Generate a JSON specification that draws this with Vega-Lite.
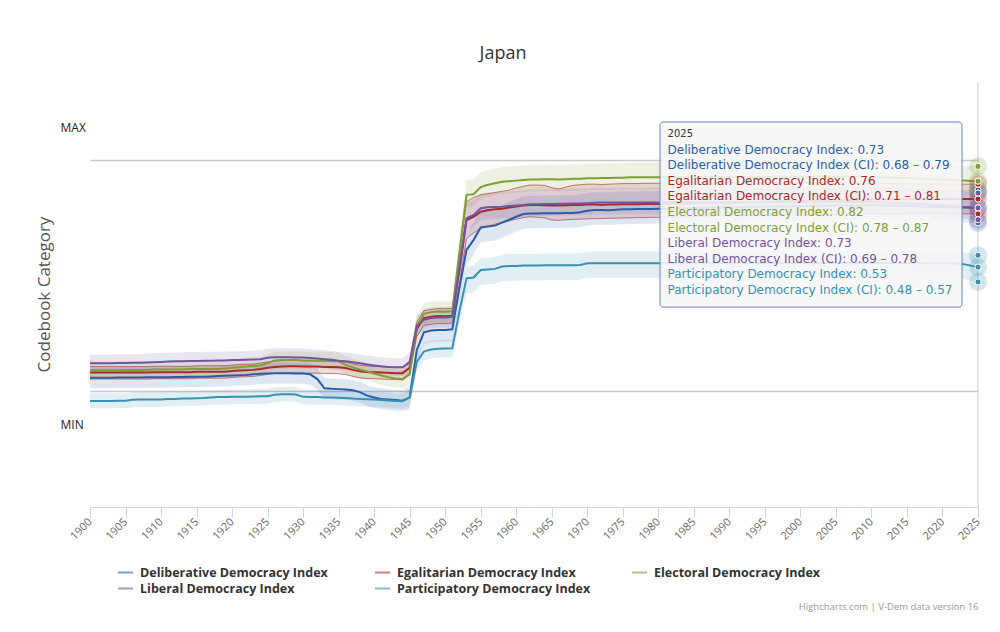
{
  "$schema": "https://vega.github.io/schema/vega-lite/v6.json",
  "width": 888,
  "height": 425,
  "autosize": {"type": "none"},
  "padding": {"left": 90, "top": 82, "right": 22, "bottom": 125},
  "background": "white",
  "config": {"font": "Open Sans", "view": {"stroke": null}, "axis": {"labelOverlap": false, "labelSeparation": 0}},
  "title": {"text": "Japan", "fontSize": 18, "fontWeight": "normal", "color": "#333333", "anchor": "middle", "dx": -31, "offset": 5, "baseline": "alphabetic"},
  "datasets": {
    "tip": [
      {"k": 0, "s": "H", "t": "2025"},
      {"k": 1, "s": "D", "t": "Deliberative Democracy Index: 0.73"},
      {"k": 2, "s": "D", "t": "Deliberative Democracy Index (CI): 0.68 – 0.79"},
      {"k": 3, "s": "G", "t": "Egalitarian Democracy Index: 0.76"},
      {"k": 4, "s": "G", "t": "Egalitarian Democracy Index (CI): 0.71 – 0.81"},
      {"k": 5, "s": "E", "t": "Electoral Democracy Index: 0.82"},
      {"k": 6, "s": "E", "t": "Electoral Democracy Index (CI): 0.78 – 0.87"},
      {"k": 7, "s": "L", "t": "Liberal Democracy Index: 0.73"},
      {"k": 8, "s": "L", "t": "Liberal Democracy Index (CI): 0.69 – 0.78"},
      {"k": 9, "s": "P", "t": "Participatory Democracy Index: 0.53"},
      {"k": 10, "s": "P", "t": "Participatory Democracy Index (CI): 0.48 – 0.57"}
    ],
    "dem": [
      {"s":"D","y":1900,"v":0.156,"l":0.121,"h":0.191},{"s":"D","y":1901,"v":0.156,"l":0.121,"h":0.191},{"s":"D","y":1902,"v":0.156,"l":0.121,"h":0.191},{"s":"D","y":1903,"v":0.156,"l":0.121,"h":0.191},{"s":"D","y":1904,"v":0.157,"l":0.122,"h":0.192},
      {"s":"D","y":1905,"v":0.157,"l":0.122,"h":0.192},{"s":"D","y":1906,"v":0.157,"l":0.122,"h":0.192},{"s":"D","y":1907,"v":0.157,"l":0.122,"h":0.192},{"s":"D","y":1908,"v":0.158,"l":0.123,"h":0.193},{"s":"D","y":1909,"v":0.158,"l":0.123,"h":0.193},
      {"s":"D","y":1910,"v":0.158,"l":0.123,"h":0.193},{"s":"D","y":1911,"v":0.158,"l":0.123,"h":0.193},{"s":"D","y":1912,"v":0.159,"l":0.124,"h":0.194},{"s":"D","y":1913,"v":0.159,"l":0.124,"h":0.194},{"s":"D","y":1914,"v":0.160,"l":0.125,"h":0.195},
      {"s":"D","y":1915,"v":0.160,"l":0.125,"h":0.195},{"s":"D","y":1916,"v":0.160,"l":0.125,"h":0.195},{"s":"D","y":1917,"v":0.161,"l":0.126,"h":0.196},{"s":"D","y":1918,"v":0.162,"l":0.127,"h":0.197},{"s":"D","y":1919,"v":0.163,"l":0.128,"h":0.198},
      {"s":"D","y":1920,"v":0.164,"l":0.129,"h":0.199},{"s":"D","y":1921,"v":0.165,"l":0.130,"h":0.200},{"s":"D","y":1922,"v":0.166,"l":0.131,"h":0.201},{"s":"D","y":1923,"v":0.168,"l":0.133,"h":0.203},{"s":"D","y":1924,"v":0.170,"l":0.135,"h":0.205},
      {"s":"D","y":1925,"v":0.171,"l":0.136,"h":0.206},{"s":"D","y":1926,"v":0.172,"l":0.137,"h":0.207},{"s":"D","y":1927,"v":0.172,"l":0.137,"h":0.207},{"s":"D","y":1928,"v":0.172,"l":0.137,"h":0.207},{"s":"D","y":1929,"v":0.171,"l":0.136,"h":0.206},
      {"s":"D","y":1930,"v":0.171,"l":0.136,"h":0.206},{"s":"D","y":1931,"v":0.168,"l":0.133,"h":0.203},{"s":"D","y":1932,"v":0.152,"l":0.117,"h":0.187},{"s":"D","y":1933,"v":0.121,"l":0.086,"h":0.156},{"s":"D","y":1934,"v":0.119,"l":0.084,"h":0.154},
      {"s":"D","y":1935,"v":0.118,"l":0.083,"h":0.153},{"s":"D","y":1936,"v":0.117,"l":0.082,"h":0.152},{"s":"D","y":1937,"v":0.114,"l":0.079,"h":0.149},{"s":"D","y":1938,"v":0.108,"l":0.073,"h":0.143},{"s":"D","y":1939,"v":0.096,"l":0.061,"h":0.131},
      {"s":"D","y":1940,"v":0.090,"l":0.055,"h":0.125},{"s":"D","y":1941,"v":0.085,"l":0.050,"h":0.120},{"s":"D","y":1942,"v":0.083,"l":0.048,"h":0.118},{"s":"D","y":1943,"v":0.081,"l":0.046,"h":0.116},{"s":"D","y":1944,"v":0.079,"l":0.044,"h":0.114},
      {"s":"D","y":1945,"v":0.090,"l":0.050,"h":0.130},{"s":"D","y":1946,"v":0.250,"l":0.210,"h":0.290},{"s":"D","y":1947,"v":0.310,"l":0.270,"h":0.350},{"s":"D","y":1948,"v":0.316,"l":0.276,"h":0.356},{"s":"D","y":1949,"v":0.318,"l":0.278,"h":0.358},
      {"s":"D","y":1950,"v":0.318,"l":0.278,"h":0.358},{"s":"D","y":1951,"v":0.320,"l":0.280,"h":0.360},{"s":"D","y":1952,"v":0.460,"l":0.410,"h":0.520},{"s":"D","y":1953,"v":0.588,"l":0.538,"h":0.648},{"s":"D","y":1954,"v":0.622,"l":0.572,"h":0.682},
      {"s":"D","y":1955,"v":0.664,"l":0.614,"h":0.724},{"s":"D","y":1956,"v":0.667,"l":0.617,"h":0.727},{"s":"D","y":1957,"v":0.670,"l":0.620,"h":0.730},{"s":"D","y":1958,"v":0.680,"l":0.630,"h":0.740},{"s":"D","y":1959,"v":0.690,"l":0.640,"h":0.750},
      {"s":"D","y":1960,"v":0.700,"l":0.650,"h":0.760},{"s":"D","y":1961,"v":0.709,"l":0.659,"h":0.769},{"s":"D","y":1962,"v":0.711,"l":0.661,"h":0.771},{"s":"D","y":1963,"v":0.711,"l":0.661,"h":0.771},{"s":"D","y":1964,"v":0.712,"l":0.662,"h":0.772},
      {"s":"D","y":1965,"v":0.712,"l":0.662,"h":0.772},{"s":"D","y":1966,"v":0.712,"l":0.662,"h":0.772},{"s":"D","y":1967,"v":0.713,"l":0.663,"h":0.773},{"s":"D","y":1968,"v":0.713,"l":0.663,"h":0.773},{"s":"D","y":1969,"v":0.715,"l":0.665,"h":0.775},
      {"s":"D","y":1970,"v":0.720,"l":0.670,"h":0.780},{"s":"D","y":1971,"v":0.723,"l":0.673,"h":0.783},{"s":"D","y":1972,"v":0.723,"l":0.673,"h":0.783},{"s":"D","y":1973,"v":0.722,"l":0.672,"h":0.782},{"s":"D","y":1974,"v":0.724,"l":0.674,"h":0.784},
      {"s":"D","y":1975,"v":0.725,"l":0.675,"h":0.785},{"s":"D","y":1976,"v":0.725,"l":0.675,"h":0.785},{"s":"D","y":1977,"v":0.726,"l":0.676,"h":0.786},{"s":"D","y":1978,"v":0.726,"l":0.676,"h":0.786},{"s":"D","y":1979,"v":0.726,"l":0.676,"h":0.786},
      {"s":"D","y":1980,"v":0.727,"l":0.677,"h":0.787},{"s":"D","y":1981,"v":0.727,"l":0.677,"h":0.787},{"s":"D","y":1982,"v":0.728,"l":0.678,"h":0.788},{"s":"D","y":1983,"v":0.728,"l":0.678,"h":0.788},{"s":"D","y":1984,"v":0.729,"l":0.679,"h":0.789},
      {"s":"D","y":1985,"v":0.729,"l":0.679,"h":0.789},{"s":"D","y":1986,"v":0.730,"l":0.680,"h":0.790},{"s":"D","y":1987,"v":0.730,"l":0.680,"h":0.790},{"s":"D","y":1988,"v":0.731,"l":0.681,"h":0.791},{"s":"D","y":1989,"v":0.731,"l":0.681,"h":0.791},
      {"s":"D","y":1990,"v":0.732,"l":0.682,"h":0.792},{"s":"D","y":1991,"v":0.732,"l":0.682,"h":0.792},{"s":"D","y":1992,"v":0.732,"l":0.682,"h":0.792},{"s":"D","y":1993,"v":0.733,"l":0.683,"h":0.793},{"s":"D","y":1994,"v":0.734,"l":0.684,"h":0.794},
      {"s":"D","y":1995,"v":0.734,"l":0.684,"h":0.794},{"s":"D","y":1996,"v":0.735,"l":0.685,"h":0.795},{"s":"D","y":1997,"v":0.735,"l":0.685,"h":0.795},{"s":"D","y":1998,"v":0.735,"l":0.685,"h":0.795},{"s":"D","y":1999,"v":0.736,"l":0.686,"h":0.796},
      {"s":"D","y":2000,"v":0.736,"l":0.686,"h":0.796},{"s":"D","y":2001,"v":0.736,"l":0.686,"h":0.796},{"s":"D","y":2002,"v":0.737,"l":0.687,"h":0.797},{"s":"D","y":2003,"v":0.737,"l":0.687,"h":0.797},{"s":"D","y":2004,"v":0.737,"l":0.687,"h":0.797},
      {"s":"D","y":2005,"v":0.738,"l":0.688,"h":0.798},{"s":"D","y":2006,"v":0.738,"l":0.688,"h":0.798},{"s":"D","y":2007,"v":0.738,"l":0.688,"h":0.798},{"s":"D","y":2008,"v":0.738,"l":0.688,"h":0.798},{"s":"D","y":2009,"v":0.739,"l":0.689,"h":0.799},
      {"s":"D","y":2010,"v":0.739,"l":0.689,"h":0.799},{"s":"D","y":2011,"v":0.739,"l":0.689,"h":0.799},{"s":"D","y":2012,"v":0.738,"l":0.688,"h":0.798},{"s":"D","y":2013,"v":0.738,"l":0.688,"h":0.798},{"s":"D","y":2014,"v":0.737,"l":0.687,"h":0.797},
      {"s":"D","y":2015,"v":0.736,"l":0.686,"h":0.796},{"s":"D","y":2016,"v":0.736,"l":0.686,"h":0.796},{"s":"D","y":2017,"v":0.735,"l":0.685,"h":0.795},{"s":"D","y":2018,"v":0.734,"l":0.684,"h":0.794},{"s":"D","y":2019,"v":0.733,"l":0.683,"h":0.793},
      {"s":"D","y":2020,"v":0.733,"l":0.683,"h":0.793},{"s":"D","y":2021,"v":0.732,"l":0.682,"h":0.792},{"s":"D","y":2022,"v":0.731,"l":0.681,"h":0.791},{"s":"D","y":2023,"v":0.731,"l":0.681,"h":0.791},{"s":"D","y":2024,"v":0.730,"l":0.680,"h":0.790},
      {"s":"D","y":2025,"v":0.730,"l":0.680,"h":0.790},

      {"s":"G","y":1900,"v":0.174,"l":0.152,"h":0.194},{"s":"G","y":1901,"v":0.174,"l":0.152,"h":0.194},{"s":"G","y":1902,"v":0.174,"l":0.152,"h":0.194},{"s":"G","y":1903,"v":0.174,"l":0.152,"h":0.194},{"s":"G","y":1904,"v":0.174,"l":0.152,"h":0.194},
      {"s":"G","y":1905,"v":0.174,"l":0.152,"h":0.194},{"s":"G","y":1906,"v":0.174,"l":0.152,"h":0.194},{"s":"G","y":1907,"v":0.174,"l":0.152,"h":0.194},{"s":"G","y":1908,"v":0.174,"l":0.152,"h":0.194},{"s":"G","y":1909,"v":0.175,"l":0.153,"h":0.195},
      {"s":"G","y":1910,"v":0.175,"l":0.153,"h":0.195},{"s":"G","y":1911,"v":0.175,"l":0.153,"h":0.195},{"s":"G","y":1912,"v":0.175,"l":0.153,"h":0.195},{"s":"G","y":1913,"v":0.175,"l":0.153,"h":0.195},{"s":"G","y":1914,"v":0.175,"l":0.153,"h":0.195},
      {"s":"G","y":1915,"v":0.177,"l":0.155,"h":0.197},{"s":"G","y":1916,"v":0.177,"l":0.155,"h":0.197},{"s":"G","y":1917,"v":0.177,"l":0.155,"h":0.197},{"s":"G","y":1918,"v":0.177,"l":0.155,"h":0.197},{"s":"G","y":1919,"v":0.177,"l":0.155,"h":0.197},
      {"s":"G","y":1920,"v":0.179,"l":0.157,"h":0.199},{"s":"G","y":1921,"v":0.181,"l":0.159,"h":0.201},{"s":"G","y":1922,"v":0.182,"l":0.160,"h":0.202},{"s":"G","y":1923,"v":0.183,"l":0.161,"h":0.203},{"s":"G","y":1924,"v":0.186,"l":0.164,"h":0.206},
      {"s":"G","y":1925,"v":0.190,"l":0.168,"h":0.210},{"s":"G","y":1926,"v":0.193,"l":0.171,"h":0.213},{"s":"G","y":1927,"v":0.194,"l":0.172,"h":0.214},{"s":"G","y":1928,"v":0.195,"l":0.173,"h":0.215},{"s":"G","y":1929,"v":0.195,"l":0.173,"h":0.215},
      {"s":"G","y":1930,"v":0.194,"l":0.172,"h":0.214},{"s":"G","y":1931,"v":0.194,"l":0.172,"h":0.214},{"s":"G","y":1932,"v":0.194,"l":0.172,"h":0.214},{"s":"G","y":1933,"v":0.193,"l":0.171,"h":0.213},{"s":"G","y":1934,"v":0.193,"l":0.171,"h":0.213},
      {"s":"G","y":1935,"v":0.192,"l":0.170,"h":0.212},{"s":"G","y":1936,"v":0.189,"l":0.167,"h":0.209},{"s":"G","y":1937,"v":0.183,"l":0.161,"h":0.203},{"s":"G","y":1938,"v":0.178,"l":0.156,"h":0.198},{"s":"G","y":1939,"v":0.176,"l":0.154,"h":0.196},
      {"s":"G","y":1940,"v":0.175,"l":0.153,"h":0.195},{"s":"G","y":1941,"v":0.174,"l":0.152,"h":0.194},{"s":"G","y":1942,"v":0.173,"l":0.151,"h":0.193},{"s":"G","y":1943,"v":0.172,"l":0.150,"h":0.192},{"s":"G","y":1944,"v":0.172,"l":0.150,"h":0.192},
      {"s":"G","y":1945,"v":0.190,"l":0.165,"h":0.215},{"s":"G","y":1946,"v":0.320,"l":0.295,"h":0.345},{"s":"G","y":1947,"v":0.358,"l":0.333,"h":0.383},{"s":"G","y":1948,"v":0.362,"l":0.337,"h":0.387},{"s":"G","y":1949,"v":0.365,"l":0.340,"h":0.390},
      {"s":"G","y":1950,"v":0.364,"l":0.339,"h":0.389},{"s":"G","y":1951,"v":0.366,"l":0.341,"h":0.391},{"s":"G","y":1952,"v":0.520,"l":0.470,"h":0.580},{"s":"G","y":1953,"v":0.689,"l":0.627,"h":0.751},{"s":"G","y":1954,"v":0.700,"l":0.645,"h":0.765},
      {"s":"G","y":1955,"v":0.717,"l":0.661,"h":0.774},{"s":"G","y":1956,"v":0.722,"l":0.668,"h":0.778},{"s":"G","y":1957,"v":0.725,"l":0.675,"h":0.782},{"s":"G","y":1958,"v":0.727,"l":0.680,"h":0.786},{"s":"G","y":1959,"v":0.731,"l":0.686,"h":0.790},
      {"s":"G","y":1960,"v":0.735,"l":0.692,"h":0.797},{"s":"G","y":1961,"v":0.738,"l":0.697,"h":0.803},{"s":"G","y":1962,"v":0.740,"l":0.700,"h":0.807},{"s":"G","y":1963,"v":0.740,"l":0.698,"h":0.807},{"s":"G","y":1964,"v":0.739,"l":0.696,"h":0.806},
      {"s":"G","y":1965,"v":0.738,"l":0.689,"h":0.798},{"s":"G","y":1966,"v":0.738,"l":0.688,"h":0.794},{"s":"G","y":1967,"v":0.739,"l":0.690,"h":0.800},{"s":"G","y":1968,"v":0.740,"l":0.691,"h":0.806},{"s":"G","y":1969,"v":0.740,"l":0.692,"h":0.808},
      {"s":"G","y":1970,"v":0.741,"l":0.693,"h":0.810},{"s":"G","y":1971,"v":0.741,"l":0.694,"h":0.810},{"s":"G","y":1972,"v":0.740,"l":0.694,"h":0.809},{"s":"G","y":1973,"v":0.741,"l":0.695,"h":0.810},{"s":"G","y":1974,"v":0.741,"l":0.695,"h":0.811},
      {"s":"G","y":1975,"v":0.742,"l":0.696,"h":0.812},{"s":"G","y":1976,"v":0.742,"l":0.696,"h":0.812},{"s":"G","y":1977,"v":0.742,"l":0.697,"h":0.812},{"s":"G","y":1978,"v":0.743,"l":0.697,"h":0.813},{"s":"G","y":1979,"v":0.743,"l":0.698,"h":0.813},
      {"s":"G","y":1980,"v":0.743,"l":0.698,"h":0.813},{"s":"G","y":1981,"v":0.744,"l":0.699,"h":0.813},{"s":"G","y":1982,"v":0.744,"l":0.699,"h":0.813},{"s":"G","y":1983,"v":0.745,"l":0.700,"h":0.814},{"s":"G","y":1984,"v":0.745,"l":0.700,"h":0.814},
      {"s":"G","y":1985,"v":0.746,"l":0.701,"h":0.814},{"s":"G","y":1986,"v":0.746,"l":0.701,"h":0.814},{"s":"G","y":1987,"v":0.747,"l":0.702,"h":0.814},{"s":"G","y":1988,"v":0.747,"l":0.702,"h":0.814},{"s":"G","y":1989,"v":0.748,"l":0.703,"h":0.815},
      {"s":"G","y":1990,"v":0.748,"l":0.703,"h":0.815},{"s":"G","y":1991,"v":0.749,"l":0.704,"h":0.815},{"s":"G","y":1992,"v":0.749,"l":0.704,"h":0.815},{"s":"G","y":1993,"v":0.750,"l":0.705,"h":0.815},{"s":"G","y":1994,"v":0.750,"l":0.705,"h":0.815},
      {"s":"G","y":1995,"v":0.751,"l":0.706,"h":0.815},{"s":"G","y":1996,"v":0.751,"l":0.706,"h":0.815},{"s":"G","y":1997,"v":0.752,"l":0.707,"h":0.815},{"s":"G","y":1998,"v":0.752,"l":0.707,"h":0.815},{"s":"G","y":1999,"v":0.753,"l":0.707,"h":0.815},
      {"s":"G","y":2000,"v":0.753,"l":0.708,"h":0.815},{"s":"G","y":2001,"v":0.754,"l":0.708,"h":0.815},{"s":"G","y":2002,"v":0.754,"l":0.708,"h":0.815},{"s":"G","y":2003,"v":0.755,"l":0.709,"h":0.815},{"s":"G","y":2004,"v":0.755,"l":0.709,"h":0.814},
      {"s":"G","y":2005,"v":0.756,"l":0.709,"h":0.814},{"s":"G","y":2006,"v":0.756,"l":0.709,"h":0.814},{"s":"G","y":2007,"v":0.757,"l":0.710,"h":0.814},{"s":"G","y":2008,"v":0.757,"l":0.710,"h":0.813},{"s":"G","y":2009,"v":0.757,"l":0.710,"h":0.813},
      {"s":"G","y":2010,"v":0.758,"l":0.710,"h":0.813},{"s":"G","y":2011,"v":0.758,"l":0.710,"h":0.813},{"s":"G","y":2012,"v":0.758,"l":0.710,"h":0.812},{"s":"G","y":2013,"v":0.759,"l":0.710,"h":0.812},{"s":"G","y":2014,"v":0.759,"l":0.710,"h":0.812},
      {"s":"G","y":2015,"v":0.759,"l":0.711,"h":0.812},{"s":"G","y":2016,"v":0.760,"l":0.711,"h":0.811},{"s":"G","y":2017,"v":0.760,"l":0.711,"h":0.811},{"s":"G","y":2018,"v":0.760,"l":0.711,"h":0.811},{"s":"G","y":2019,"v":0.760,"l":0.711,"h":0.811},
      {"s":"G","y":2020,"v":0.760,"l":0.711,"h":0.811},{"s":"G","y":2021,"v":0.760,"l":0.710,"h":0.810},{"s":"G","y":2022,"v":0.760,"l":0.710,"h":0.810},{"s":"G","y":2023,"v":0.760,"l":0.710,"h":0.810},{"s":"G","y":2024,"v":0.760,"l":0.710,"h":0.810},
      {"s":"G","y":2025,"v":0.760,"l":0.710,"h":0.810},

      {"s":"E","y":1900,"v":0.182,"l":0.152,"h":0.212},{"s":"E","y":1901,"v":0.182,"l":0.152,"h":0.212},{"s":"E","y":1902,"v":0.182,"l":0.152,"h":0.212},{"s":"E","y":1903,"v":0.182,"l":0.152,"h":0.212},{"s":"E","y":1904,"v":0.182,"l":0.152,"h":0.212},
      {"s":"E","y":1905,"v":0.183,"l":0.153,"h":0.213},{"s":"E","y":1906,"v":0.183,"l":0.153,"h":0.213},{"s":"E","y":1907,"v":0.183,"l":0.153,"h":0.213},{"s":"E","y":1908,"v":0.183,"l":0.153,"h":0.213},{"s":"E","y":1909,"v":0.184,"l":0.154,"h":0.214},
      {"s":"E","y":1910,"v":0.184,"l":0.154,"h":0.214},{"s":"E","y":1911,"v":0.184,"l":0.154,"h":0.214},{"s":"E","y":1912,"v":0.184,"l":0.154,"h":0.214},{"s":"E","y":1913,"v":0.184,"l":0.154,"h":0.214},{"s":"E","y":1914,"v":0.186,"l":0.156,"h":0.216},
      {"s":"E","y":1915,"v":0.186,"l":0.156,"h":0.216},{"s":"E","y":1916,"v":0.186,"l":0.156,"h":0.216},{"s":"E","y":1917,"v":0.186,"l":0.156,"h":0.216},{"s":"E","y":1918,"v":0.186,"l":0.156,"h":0.216},{"s":"E","y":1919,"v":0.188,"l":0.158,"h":0.218},
      {"s":"E","y":1920,"v":0.190,"l":0.160,"h":0.220},{"s":"E","y":1921,"v":0.192,"l":0.162,"h":0.222},{"s":"E","y":1922,"v":0.194,"l":0.164,"h":0.224},{"s":"E","y":1923,"v":0.196,"l":0.166,"h":0.226},{"s":"E","y":1924,"v":0.198,"l":0.168,"h":0.228},
      {"s":"E","y":1925,"v":0.206,"l":0.176,"h":0.236},{"s":"E","y":1926,"v":0.215,"l":0.185,"h":0.245},{"s":"E","y":1927,"v":0.216,"l":0.186,"h":0.246},{"s":"E","y":1928,"v":0.216,"l":0.186,"h":0.246},{"s":"E","y":1929,"v":0.216,"l":0.186,"h":0.246},
      {"s":"E","y":1930,"v":0.215,"l":0.185,"h":0.245},{"s":"E","y":1931,"v":0.215,"l":0.185,"h":0.245},{"s":"E","y":1932,"v":0.214,"l":0.184,"h":0.244},{"s":"E","y":1933,"v":0.214,"l":0.184,"h":0.244},{"s":"E","y":1934,"v":0.213,"l":0.183,"h":0.243},
      {"s":"E","y":1935,"v":0.212,"l":0.182,"h":0.242},{"s":"E","y":1936,"v":0.200,"l":0.170,"h":0.230},{"s":"E","y":1937,"v":0.191,"l":0.161,"h":0.221},{"s":"E","y":1938,"v":0.184,"l":0.154,"h":0.214},{"s":"E","y":1939,"v":0.178,"l":0.148,"h":0.208},
      {"s":"E","y":1940,"v":0.171,"l":0.141,"h":0.201},{"s":"E","y":1941,"v":0.164,"l":0.134,"h":0.194},{"s":"E","y":1942,"v":0.158,"l":0.128,"h":0.188},{"s":"E","y":1943,"v":0.154,"l":0.124,"h":0.184},{"s":"E","y":1944,"v":0.151,"l":0.121,"h":0.181},
      {"s":"E","y":1945,"v":0.170,"l":0.135,"h":0.205},{"s":"E","y":1946,"v":0.330,"l":0.295,"h":0.365},{"s":"E","y":1947,"v":0.372,"l":0.337,"h":0.407},{"s":"E","y":1948,"v":0.378,"l":0.343,"h":0.413},{"s":"E","y":1949,"v":0.380,"l":0.345,"h":0.415},
      {"s":"E","y":1950,"v":0.379,"l":0.344,"h":0.414},{"s":"E","y":1951,"v":0.381,"l":0.346,"h":0.416},{"s":"E","y":1952,"v":0.580,"l":0.530,"h":0.630},{"s":"E","y":1953,"v":0.774,"l":0.734,"h":0.824},{"s":"E","y":1954,"v":0.776,"l":0.736,"h":0.826},
      {"s":"E","y":1955,"v":0.800,"l":0.760,"h":0.850},{"s":"E","y":1956,"v":0.808,"l":0.768,"h":0.858},{"s":"E","y":1957,"v":0.813,"l":0.773,"h":0.863},{"s":"E","y":1958,"v":0.818,"l":0.778,"h":0.868},{"s":"E","y":1959,"v":0.820,"l":0.780,"h":0.870},
      {"s":"E","y":1960,"v":0.822,"l":0.782,"h":0.872},{"s":"E","y":1961,"v":0.824,"l":0.784,"h":0.874},{"s":"E","y":1962,"v":0.826,"l":0.786,"h":0.876},{"s":"E","y":1963,"v":0.826,"l":0.786,"h":0.876},{"s":"E","y":1964,"v":0.827,"l":0.787,"h":0.877},
      {"s":"E","y":1965,"v":0.827,"l":0.787,"h":0.877},{"s":"E","y":1966,"v":0.826,"l":0.786,"h":0.876},{"s":"E","y":1967,"v":0.827,"l":0.787,"h":0.877},{"s":"E","y":1968,"v":0.828,"l":0.788,"h":0.878},{"s":"E","y":1969,"v":0.828,"l":0.788,"h":0.878},
      {"s":"E","y":1970,"v":0.830,"l":0.790,"h":0.880},{"s":"E","y":1971,"v":0.830,"l":0.790,"h":0.880},{"s":"E","y":1972,"v":0.831,"l":0.791,"h":0.881},{"s":"E","y":1973,"v":0.831,"l":0.791,"h":0.881},{"s":"E","y":1974,"v":0.832,"l":0.792,"h":0.882},
      {"s":"E","y":1975,"v":0.832,"l":0.792,"h":0.882},{"s":"E","y":1976,"v":0.833,"l":0.793,"h":0.883},{"s":"E","y":1977,"v":0.833,"l":0.793,"h":0.883},{"s":"E","y":1978,"v":0.833,"l":0.793,"h":0.883},{"s":"E","y":1979,"v":0.833,"l":0.793,"h":0.883},
      {"s":"E","y":1980,"v":0.833,"l":0.793,"h":0.883},{"s":"E","y":1981,"v":0.834,"l":0.794,"h":0.884},{"s":"E","y":1982,"v":0.834,"l":0.794,"h":0.884},{"s":"E","y":1983,"v":0.834,"l":0.794,"h":0.884},{"s":"E","y":1984,"v":0.834,"l":0.794,"h":0.884},
      {"s":"E","y":1985,"v":0.834,"l":0.794,"h":0.884},{"s":"E","y":1986,"v":0.834,"l":0.794,"h":0.884},{"s":"E","y":1987,"v":0.834,"l":0.794,"h":0.884},{"s":"E","y":1988,"v":0.834,"l":0.794,"h":0.884},{"s":"E","y":1989,"v":0.834,"l":0.794,"h":0.884},
      {"s":"E","y":1990,"v":0.834,"l":0.794,"h":0.884},{"s":"E","y":1991,"v":0.834,"l":0.794,"h":0.884},{"s":"E","y":1992,"v":0.834,"l":0.794,"h":0.884},{"s":"E","y":1993,"v":0.834,"l":0.794,"h":0.884},{"s":"E","y":1994,"v":0.834,"l":0.794,"h":0.884},
      {"s":"E","y":1995,"v":0.834,"l":0.794,"h":0.884},{"s":"E","y":1996,"v":0.835,"l":0.795,"h":0.885},{"s":"E","y":1997,"v":0.835,"l":0.795,"h":0.885},{"s":"E","y":1998,"v":0.835,"l":0.795,"h":0.885},{"s":"E","y":1999,"v":0.835,"l":0.795,"h":0.885},
      {"s":"E","y":2000,"v":0.835,"l":0.795,"h":0.885},{"s":"E","y":2001,"v":0.835,"l":0.795,"h":0.885},{"s":"E","y":2002,"v":0.835,"l":0.795,"h":0.885},{"s":"E","y":2003,"v":0.835,"l":0.795,"h":0.885},{"s":"E","y":2004,"v":0.835,"l":0.795,"h":0.885},
      {"s":"E","y":2005,"v":0.835,"l":0.795,"h":0.885},{"s":"E","y":2006,"v":0.835,"l":0.795,"h":0.885},{"s":"E","y":2007,"v":0.835,"l":0.795,"h":0.885},{"s":"E","y":2008,"v":0.835,"l":0.795,"h":0.885},{"s":"E","y":2009,"v":0.835,"l":0.795,"h":0.885},
      {"s":"E","y":2010,"v":0.835,"l":0.795,"h":0.885},{"s":"E","y":2011,"v":0.834,"l":0.794,"h":0.884},{"s":"E","y":2012,"v":0.833,"l":0.793,"h":0.883},{"s":"E","y":2013,"v":0.832,"l":0.792,"h":0.882},{"s":"E","y":2014,"v":0.831,"l":0.791,"h":0.881},
      {"s":"E","y":2015,"v":0.830,"l":0.790,"h":0.880},{"s":"E","y":2016,"v":0.829,"l":0.789,"h":0.879},{"s":"E","y":2017,"v":0.828,"l":0.788,"h":0.878},{"s":"E","y":2018,"v":0.827,"l":0.787,"h":0.877},{"s":"E","y":2019,"v":0.826,"l":0.786,"h":0.876},
      {"s":"E","y":2020,"v":0.825,"l":0.785,"h":0.875},{"s":"E","y":2021,"v":0.824,"l":0.784,"h":0.874},{"s":"E","y":2022,"v":0.823,"l":0.783,"h":0.873},{"s":"E","y":2023,"v":0.822,"l":0.782,"h":0.872},{"s":"E","y":2024,"v":0.821,"l":0.781,"h":0.871},
      {"s":"E","y":2025,"v":0.820,"l":0.780,"h":0.870},

      {"s":"L","y":1900,"v":0.205,"l":0.175,"h":0.235},{"s":"L","y":1901,"v":0.205,"l":0.175,"h":0.235},{"s":"L","y":1902,"v":0.205,"l":0.175,"h":0.235},{"s":"L","y":1903,"v":0.205,"l":0.175,"h":0.235},{"s":"L","y":1904,"v":0.206,"l":0.176,"h":0.236},
      {"s":"L","y":1905,"v":0.206,"l":0.176,"h":0.236},{"s":"L","y":1906,"v":0.207,"l":0.177,"h":0.237},{"s":"L","y":1907,"v":0.207,"l":0.177,"h":0.237},{"s":"L","y":1908,"v":0.208,"l":0.178,"h":0.238},{"s":"L","y":1909,"v":0.209,"l":0.179,"h":0.239},
      {"s":"L","y":1910,"v":0.210,"l":0.180,"h":0.240},{"s":"L","y":1911,"v":0.211,"l":0.181,"h":0.241},{"s":"L","y":1912,"v":0.212,"l":0.182,"h":0.242},{"s":"L","y":1913,"v":0.212,"l":0.182,"h":0.242},{"s":"L","y":1914,"v":0.213,"l":0.183,"h":0.243},
      {"s":"L","y":1915,"v":0.213,"l":0.183,"h":0.243},{"s":"L","y":1916,"v":0.214,"l":0.184,"h":0.244},{"s":"L","y":1917,"v":0.214,"l":0.184,"h":0.244},{"s":"L","y":1918,"v":0.215,"l":0.185,"h":0.245},{"s":"L","y":1919,"v":0.215,"l":0.185,"h":0.245},
      {"s":"L","y":1920,"v":0.216,"l":0.186,"h":0.246},{"s":"L","y":1921,"v":0.216,"l":0.186,"h":0.246},{"s":"L","y":1922,"v":0.217,"l":0.187,"h":0.247},{"s":"L","y":1923,"v":0.218,"l":0.188,"h":0.248},{"s":"L","y":1924,"v":0.219,"l":0.189,"h":0.249},
      {"s":"L","y":1925,"v":0.224,"l":0.194,"h":0.254},{"s":"L","y":1926,"v":0.226,"l":0.196,"h":0.256},{"s":"L","y":1927,"v":0.226,"l":0.196,"h":0.256},{"s":"L","y":1928,"v":0.226,"l":0.196,"h":0.256},{"s":"L","y":1929,"v":0.225,"l":0.195,"h":0.255},
      {"s":"L","y":1930,"v":0.225,"l":0.195,"h":0.255},{"s":"L","y":1931,"v":0.223,"l":0.193,"h":0.253},{"s":"L","y":1932,"v":0.221,"l":0.191,"h":0.251},{"s":"L","y":1933,"v":0.219,"l":0.189,"h":0.249},{"s":"L","y":1934,"v":0.217,"l":0.187,"h":0.247},
      {"s":"L","y":1935,"v":0.214,"l":0.184,"h":0.244},{"s":"L","y":1936,"v":0.212,"l":0.182,"h":0.242},{"s":"L","y":1937,"v":0.209,"l":0.179,"h":0.239},{"s":"L","y":1938,"v":0.205,"l":0.175,"h":0.235},{"s":"L","y":1939,"v":0.201,"l":0.171,"h":0.231},
      {"s":"L","y":1940,"v":0.198,"l":0.168,"h":0.228},{"s":"L","y":1941,"v":0.195,"l":0.165,"h":0.225},{"s":"L","y":1942,"v":0.193,"l":0.163,"h":0.223},{"s":"L","y":1943,"v":0.192,"l":0.162,"h":0.222},{"s":"L","y":1944,"v":0.192,"l":0.162,"h":0.222},
      {"s":"L","y":1945,"v":0.208,"l":0.173,"h":0.243},{"s":"L","y":1946,"v":0.330,"l":0.295,"h":0.365},{"s":"L","y":1947,"v":0.352,"l":0.317,"h":0.387},{"s":"L","y":1948,"v":0.358,"l":0.323,"h":0.393},{"s":"L","y":1949,"v":0.360,"l":0.325,"h":0.395},
      {"s":"L","y":1950,"v":0.360,"l":0.325,"h":0.395},{"s":"L","y":1951,"v":0.362,"l":0.327,"h":0.397},{"s":"L","y":1952,"v":0.530,"l":0.480,"h":0.580},{"s":"L","y":1953,"v":0.695,"l":0.655,"h":0.745},{"s":"L","y":1954,"v":0.706,"l":0.666,"h":0.756},
      {"s":"L","y":1955,"v":0.729,"l":0.689,"h":0.779},{"s":"L","y":1956,"v":0.732,"l":0.692,"h":0.782},{"s":"L","y":1957,"v":0.733,"l":0.693,"h":0.783},{"s":"L","y":1958,"v":0.734,"l":0.694,"h":0.784},{"s":"L","y":1959,"v":0.736,"l":0.696,"h":0.786},
      {"s":"L","y":1960,"v":0.738,"l":0.698,"h":0.788},{"s":"L","y":1961,"v":0.740,"l":0.700,"h":0.790},{"s":"L","y":1962,"v":0.742,"l":0.702,"h":0.792},{"s":"L","y":1963,"v":0.742,"l":0.702,"h":0.792},{"s":"L","y":1964,"v":0.743,"l":0.703,"h":0.793},
      {"s":"L","y":1965,"v":0.743,"l":0.703,"h":0.793},{"s":"L","y":1966,"v":0.744,"l":0.704,"h":0.794},{"s":"L","y":1967,"v":0.744,"l":0.704,"h":0.794},{"s":"L","y":1968,"v":0.745,"l":0.705,"h":0.795},{"s":"L","y":1969,"v":0.745,"l":0.705,"h":0.795},
      {"s":"L","y":1970,"v":0.746,"l":0.706,"h":0.796},{"s":"L","y":1971,"v":0.747,"l":0.707,"h":0.797},{"s":"L","y":1972,"v":0.748,"l":0.708,"h":0.798},{"s":"L","y":1973,"v":0.748,"l":0.708,"h":0.798},{"s":"L","y":1974,"v":0.748,"l":0.708,"h":0.798},
      {"s":"L","y":1975,"v":0.748,"l":0.708,"h":0.798},{"s":"L","y":1976,"v":0.748,"l":0.708,"h":0.798},{"s":"L","y":1977,"v":0.748,"l":0.708,"h":0.798},{"s":"L","y":1978,"v":0.748,"l":0.708,"h":0.798},{"s":"L","y":1979,"v":0.748,"l":0.708,"h":0.798},
      {"s":"L","y":1980,"v":0.748,"l":0.708,"h":0.798},{"s":"L","y":1981,"v":0.749,"l":0.709,"h":0.799},{"s":"L","y":1982,"v":0.749,"l":0.709,"h":0.799},{"s":"L","y":1983,"v":0.749,"l":0.709,"h":0.799},{"s":"L","y":1984,"v":0.749,"l":0.709,"h":0.799},
      {"s":"L","y":1985,"v":0.749,"l":0.709,"h":0.799},{"s":"L","y":1986,"v":0.749,"l":0.709,"h":0.799},{"s":"L","y":1987,"v":0.749,"l":0.709,"h":0.799},{"s":"L","y":1988,"v":0.749,"l":0.709,"h":0.799},{"s":"L","y":1989,"v":0.749,"l":0.709,"h":0.799},
      {"s":"L","y":1990,"v":0.749,"l":0.709,"h":0.799},{"s":"L","y":1991,"v":0.749,"l":0.709,"h":0.799},{"s":"L","y":1992,"v":0.749,"l":0.709,"h":0.799},{"s":"L","y":1993,"v":0.749,"l":0.709,"h":0.799},{"s":"L","y":1994,"v":0.749,"l":0.709,"h":0.799},
      {"s":"L","y":1995,"v":0.749,"l":0.709,"h":0.799},{"s":"L","y":1996,"v":0.750,"l":0.710,"h":0.800},{"s":"L","y":1997,"v":0.750,"l":0.710,"h":0.800},{"s":"L","y":1998,"v":0.750,"l":0.710,"h":0.800},{"s":"L","y":1999,"v":0.750,"l":0.710,"h":0.800},
      {"s":"L","y":2000,"v":0.750,"l":0.710,"h":0.800},{"s":"L","y":2001,"v":0.750,"l":0.710,"h":0.800},{"s":"L","y":2002,"v":0.750,"l":0.710,"h":0.800},{"s":"L","y":2003,"v":0.750,"l":0.710,"h":0.800},{"s":"L","y":2004,"v":0.750,"l":0.710,"h":0.800},
      {"s":"L","y":2005,"v":0.750,"l":0.710,"h":0.800},{"s":"L","y":2006,"v":0.750,"l":0.710,"h":0.800},{"s":"L","y":2007,"v":0.750,"l":0.710,"h":0.800},{"s":"L","y":2008,"v":0.750,"l":0.710,"h":0.800},{"s":"L","y":2009,"v":0.750,"l":0.710,"h":0.800},
      {"s":"L","y":2010,"v":0.750,"l":0.710,"h":0.800},{"s":"L","y":2011,"v":0.749,"l":0.709,"h":0.799},{"s":"L","y":2012,"v":0.748,"l":0.708,"h":0.798},{"s":"L","y":2013,"v":0.747,"l":0.707,"h":0.797},{"s":"L","y":2014,"v":0.746,"l":0.706,"h":0.796},
      {"s":"L","y":2015,"v":0.745,"l":0.705,"h":0.795},{"s":"L","y":2016,"v":0.744,"l":0.704,"h":0.794},{"s":"L","y":2017,"v":0.743,"l":0.703,"h":0.793},{"s":"L","y":2018,"v":0.742,"l":0.702,"h":0.792},{"s":"L","y":2019,"v":0.740,"l":0.700,"h":0.790},
      {"s":"L","y":2020,"v":0.739,"l":0.699,"h":0.789},{"s":"L","y":2021,"v":0.737,"l":0.697,"h":0.787},{"s":"L","y":2022,"v":0.735,"l":0.695,"h":0.785},{"s":"L","y":2023,"v":0.733,"l":0.693,"h":0.783},{"s":"L","y":2024,"v":0.731,"l":0.691,"h":0.781},
      {"s":"L","y":2025,"v":0.730,"l":0.690,"h":0.780},

      {"s":"P","y":1900,"v":0.078,"l":0.053,"h":0.103},{"s":"P","y":1901,"v":0.078,"l":0.053,"h":0.103},{"s":"P","y":1902,"v":0.078,"l":0.053,"h":0.103},{"s":"P","y":1903,"v":0.078,"l":0.053,"h":0.103},{"s":"P","y":1904,"v":0.079,"l":0.054,"h":0.104},
      {"s":"P","y":1905,"v":0.079,"l":0.054,"h":0.104},{"s":"P","y":1906,"v":0.082,"l":0.057,"h":0.107},{"s":"P","y":1907,"v":0.083,"l":0.058,"h":0.108},{"s":"P","y":1908,"v":0.083,"l":0.058,"h":0.108},{"s":"P","y":1909,"v":0.083,"l":0.058,"h":0.108},
      {"s":"P","y":1910,"v":0.083,"l":0.058,"h":0.108},{"s":"P","y":1911,"v":0.085,"l":0.060,"h":0.110},{"s":"P","y":1912,"v":0.085,"l":0.060,"h":0.110},{"s":"P","y":1913,"v":0.086,"l":0.061,"h":0.111},{"s":"P","y":1914,"v":0.086,"l":0.061,"h":0.111},
      {"s":"P","y":1915,"v":0.087,"l":0.062,"h":0.112},{"s":"P","y":1916,"v":0.088,"l":0.063,"h":0.113},{"s":"P","y":1917,"v":0.090,"l":0.065,"h":0.115},{"s":"P","y":1918,"v":0.091,"l":0.066,"h":0.116},{"s":"P","y":1919,"v":0.091,"l":0.066,"h":0.116},
      {"s":"P","y":1920,"v":0.092,"l":0.067,"h":0.117},{"s":"P","y":1921,"v":0.092,"l":0.067,"h":0.117},{"s":"P","y":1922,"v":0.092,"l":0.067,"h":0.117},{"s":"P","y":1923,"v":0.093,"l":0.068,"h":0.118},{"s":"P","y":1924,"v":0.094,"l":0.069,"h":0.119},
      {"s":"P","y":1925,"v":0.094,"l":0.069,"h":0.119},{"s":"P","y":1926,"v":0.099,"l":0.074,"h":0.124},{"s":"P","y":1927,"v":0.101,"l":0.076,"h":0.126},{"s":"P","y":1928,"v":0.101,"l":0.076,"h":0.126},{"s":"P","y":1929,"v":0.100,"l":0.075,"h":0.125},
      {"s":"P","y":1930,"v":0.092,"l":0.067,"h":0.117},{"s":"P","y":1931,"v":0.091,"l":0.066,"h":0.116},{"s":"P","y":1932,"v":0.091,"l":0.066,"h":0.116},{"s":"P","y":1933,"v":0.090,"l":0.065,"h":0.115},{"s":"P","y":1934,"v":0.090,"l":0.065,"h":0.115},
      {"s":"P","y":1935,"v":0.089,"l":0.064,"h":0.114},{"s":"P","y":1936,"v":0.088,"l":0.063,"h":0.113},{"s":"P","y":1937,"v":0.086,"l":0.061,"h":0.111},{"s":"P","y":1938,"v":0.085,"l":0.060,"h":0.110},{"s":"P","y":1939,"v":0.084,"l":0.059,"h":0.109},
      {"s":"P","y":1940,"v":0.083,"l":0.058,"h":0.108},{"s":"P","y":1941,"v":0.081,"l":0.056,"h":0.106},{"s":"P","y":1942,"v":0.080,"l":0.055,"h":0.105},{"s":"P","y":1943,"v":0.078,"l":0.053,"h":0.103},{"s":"P","y":1944,"v":0.077,"l":0.052,"h":0.102},
      {"s":"P","y":1945,"v":0.090,"l":0.060,"h":0.120},{"s":"P","y":1946,"v":0.210,"l":0.180,"h":0.240},{"s":"P","y":1947,"v":0.245,"l":0.215,"h":0.275},{"s":"P","y":1948,"v":0.252,"l":0.222,"h":0.282},{"s":"P","y":1949,"v":0.254,"l":0.224,"h":0.284},
      {"s":"P","y":1950,"v":0.255,"l":0.225,"h":0.285},{"s":"P","y":1951,"v":0.256,"l":0.226,"h":0.286},{"s":"P","y":1952,"v":0.380,"l":0.335,"h":0.425},{"s":"P","y":1953,"v":0.492,"l":0.442,"h":0.532},{"s":"P","y":1954,"v":0.495,"l":0.445,"h":0.535},
      {"s":"P","y":1955,"v":0.520,"l":0.470,"h":0.560},{"s":"P","y":1956,"v":0.522,"l":0.472,"h":0.562},{"s":"P","y":1957,"v":0.524,"l":0.474,"h":0.564},{"s":"P","y":1958,"v":0.532,"l":0.482,"h":0.572},{"s":"P","y":1959,"v":0.534,"l":0.484,"h":0.574},
      {"s":"P","y":1960,"v":0.534,"l":0.484,"h":0.574},{"s":"P","y":1961,"v":0.535,"l":0.485,"h":0.575},{"s":"P","y":1962,"v":0.535,"l":0.485,"h":0.575},{"s":"P","y":1963,"v":0.535,"l":0.485,"h":0.575},{"s":"P","y":1964,"v":0.536,"l":0.486,"h":0.576},
      {"s":"P","y":1965,"v":0.536,"l":0.486,"h":0.576},{"s":"P","y":1966,"v":0.536,"l":0.486,"h":0.576},{"s":"P","y":1967,"v":0.536,"l":0.486,"h":0.576},{"s":"P","y":1968,"v":0.536,"l":0.486,"h":0.576},{"s":"P","y":1969,"v":0.537,"l":0.487,"h":0.577},
      {"s":"P","y":1970,"v":0.543,"l":0.493,"h":0.583},{"s":"P","y":1971,"v":0.543,"l":0.493,"h":0.583},{"s":"P","y":1972,"v":0.543,"l":0.493,"h":0.583},{"s":"P","y":1973,"v":0.543,"l":0.493,"h":0.583},{"s":"P","y":1974,"v":0.543,"l":0.493,"h":0.583},
      {"s":"P","y":1975,"v":0.543,"l":0.493,"h":0.583},{"s":"P","y":1976,"v":0.543,"l":0.493,"h":0.583},{"s":"P","y":1977,"v":0.543,"l":0.493,"h":0.583},{"s":"P","y":1978,"v":0.543,"l":0.493,"h":0.583},{"s":"P","y":1979,"v":0.543,"l":0.493,"h":0.583},
      {"s":"P","y":1980,"v":0.543,"l":0.493,"h":0.583},{"s":"P","y":1981,"v":0.543,"l":0.493,"h":0.583},{"s":"P","y":1982,"v":0.543,"l":0.493,"h":0.583},{"s":"P","y":1983,"v":0.543,"l":0.493,"h":0.583},{"s":"P","y":1984,"v":0.543,"l":0.493,"h":0.583},
      {"s":"P","y":1985,"v":0.543,"l":0.493,"h":0.583},{"s":"P","y":1986,"v":0.543,"l":0.493,"h":0.583},{"s":"P","y":1987,"v":0.543,"l":0.493,"h":0.583},{"s":"P","y":1988,"v":0.543,"l":0.493,"h":0.583},{"s":"P","y":1989,"v":0.543,"l":0.493,"h":0.583},
      {"s":"P","y":1990,"v":0.543,"l":0.493,"h":0.583},{"s":"P","y":1991,"v":0.544,"l":0.494,"h":0.584},{"s":"P","y":1992,"v":0.544,"l":0.494,"h":0.584},{"s":"P","y":1993,"v":0.544,"l":0.494,"h":0.584},{"s":"P","y":1994,"v":0.544,"l":0.494,"h":0.584},
      {"s":"P","y":1995,"v":0.544,"l":0.494,"h":0.584},{"s":"P","y":1996,"v":0.544,"l":0.494,"h":0.584},{"s":"P","y":1997,"v":0.544,"l":0.494,"h":0.584},{"s":"P","y":1998,"v":0.544,"l":0.494,"h":0.584},{"s":"P","y":1999,"v":0.544,"l":0.494,"h":0.584},
      {"s":"P","y":2000,"v":0.544,"l":0.494,"h":0.584},{"s":"P","y":2001,"v":0.544,"l":0.494,"h":0.584},{"s":"P","y":2002,"v":0.544,"l":0.494,"h":0.584},{"s":"P","y":2003,"v":0.544,"l":0.494,"h":0.584},{"s":"P","y":2004,"v":0.544,"l":0.494,"h":0.584},
      {"s":"P","y":2005,"v":0.544,"l":0.494,"h":0.584},{"s":"P","y":2006,"v":0.544,"l":0.494,"h":0.584},{"s":"P","y":2007,"v":0.544,"l":0.494,"h":0.584},{"s":"P","y":2008,"v":0.544,"l":0.494,"h":0.584},{"s":"P","y":2009,"v":0.544,"l":0.494,"h":0.584},
      {"s":"P","y":2010,"v":0.544,"l":0.494,"h":0.584},{"s":"P","y":2011,"v":0.544,"l":0.494,"h":0.584},{"s":"P","y":2012,"v":0.544,"l":0.494,"h":0.584},{"s":"P","y":2013,"v":0.544,"l":0.494,"h":0.584},{"s":"P","y":2014,"v":0.544,"l":0.494,"h":0.584},
      {"s":"P","y":2015,"v":0.544,"l":0.494,"h":0.584},{"s":"P","y":2016,"v":0.543,"l":0.493,"h":0.583},{"s":"P","y":2017,"v":0.543,"l":0.493,"h":0.583},{"s":"P","y":2018,"v":0.543,"l":0.493,"h":0.583},{"s":"P","y":2019,"v":0.543,"l":0.493,"h":0.583},
      {"s":"P","y":2020,"v":0.543,"l":0.493,"h":0.583},{"s":"P","y":2021,"v":0.543,"l":0.493,"h":0.583},{"s":"P","y":2022,"v":0.543,"l":0.493,"h":0.583},{"s":"P","y":2023,"v":0.540,"l":0.490,"h":0.580},{"s":"P","y":2024,"v":0.535,"l":0.485,"h":0.575},
      {"s":"P","y":2025,"v":0.530,"l":0.480,"h":0.570}
    ]
  },
  "resolve": {"scale": {"y": "independent"}},
  "layer": [
    {
      "data": {"name": "dem"},
      "layer": [
        {
          "mark": {"type": "area", "fillOpacity": 0.15, "interpolate": "linear"},
          "encoding": {
            "x": {
              "field": "y", "type": "quantitative",
              "title": "Highcharts.com | V-Dem data version 16",
              "scale": {"domain": [1900, 2025], "nice": false, "zero": false},
              "axis": {
                "values": [1900, 1905, 1910, 1915, 1920, 1925, 1930, 1935, 1940, 1945, 1950, 1955, 1960, 1965, 1970, 1975, 1980, 1985, 1990, 1995, 2000, 2005, 2010, 2015, 2020, 2025],
                "tickCount": 26, "format": "d", "grid": false, "labelAngle": -45, "labelAlign": "right", "labelBaseline": "middle",
                "labelFontSize": 11, "labelColor": "#666666", "labelPadding": 3, "labelFlush": false, "labelOverlap": false, "labelSeparation": 0, "labelBound": false,
                "tickColor": "#ccd6eb", "tickSize": 10, "domainColor": "#ccd6eb", "domainWidth": 1,
                "titleFontSize": 9.5, "titleColor": "#999999", "titleFontWeight": "normal", "titleAlign": "right",
                "titleAnchor": "end", "titleBaseline": "alphabetic", "titleX": 888, "titleY": 102
              }
            },
            "y": {
              "field": "l", "type": "quantitative", "title": "Codebook Category",
              "scale": {"domain": [-0.28, 1.155], "nice": false, "zero": false},
              "axis": {
                "values": [0, 0.111, 0.892, 1],
                "labelExpr": "datum.value == 1 ? 'MAX' : datum.value == 0 ? 'MIN' : ''",
                "ticks": false, "domain": false, "labelAlign": "left", "labelBaseline": "middle", "labelPadding": 30,
                "labelFontSize": 12, "labelColor": "#222222", "labelOverlap": false,
                "grid": true, "gridColor": "#c8c8c8", "gridWidth": 1.5,
                "gridOpacity": {"condition": {"test": "datum.value == 0.111 || datum.value == 0.892", "value": 1}, "value": 0},
                "titleFontSize": 17, "titleColor": "#555555", "titleFontWeight": "normal",
                "titleX": -37, "titleY": 212, "titleBaseline": "bottom"
              }
            },
            "y2": {"field": "h"},
            "color": {
              "field": "s", "type": "nominal",
              "scale": {"domain": ["D", "G", "E", "L", "P"], "range": ["#2b5ca8", "#a82a2a", "#7f9f35", "#7254a0", "#3990b0"]},
              "legend": {
                "title": null, "orient": "none", "legendX": 27, "legendY": 482, "direction": "horizontal", "columns": 3,
                "gridAlign": "all", "columnPadding": 37, "rowPadding": 1,
                "symbolType": "stroke", "symbolSize": 225, "symbolStrokeWidth": 2, "labelOffset": 6,
                "labelFontSize": 12.5, "labelFontWeight": "bold", "labelColor": "#333333", "labelLimit": 400,
                "labelExpr": "{'D': 'Deliberative Democracy Index', 'G': 'Egalitarian Democracy Index', 'E': 'Electoral Democracy Index', 'L': 'Liberal Democracy Index', 'P': 'Participatory Democracy Index'}[datum.label]"
              }
            }
          }
        },
        {
          "transform": [
            {"filter": "datum.s == 'G'"},
            {"fold": ["l", "h"], "as": ["bk", "bv"]}
          ],
          "mark": {"type": "line", "strokeWidth": 1, "opacity": 0.6},
          "encoding": {
            "x": {"field": "y", "type": "quantitative", "title": "Highcharts.com | V-Dem data version 16"},
            "y": {"field": "bv", "type": "quantitative", "title": "Codebook Category"},
            "detail": {"field": "bk"},
            "color": {"field": "s", "type": "nominal"}
          }
        },
        {
          "mark": {"type": "line", "strokeWidth": 2},
          "encoding": {
            "x": {"field": "y", "type": "quantitative", "title": "Highcharts.com | V-Dem data version 16"},
            "y": {"field": "v", "type": "quantitative", "title": "Codebook Category"},
            "color": {"field": "s", "type": "nominal"}
          }
        },
        {
          "transform": [{"filter": "datum.s == 'D' && datum.y == 2025"}],
          "mark": {"type": "rule", "color": "#cccccc", "strokeWidth": 1},
          "encoding": {"x": {"field": "y", "type": "quantitative", "title": "Highcharts.com | V-Dem data version 16"}}
        },
        {
          "transform": [
            {"filter": "datum.y == 2025"},
            {"fold": ["v", "l", "h"], "as": ["mk", "mv"]}
          ],
          "mark": {"type": "circle", "size": 330, "opacity": 0.22},
          "encoding": {
            "x": {"field": "y", "type": "quantitative", "title": "Highcharts.com | V-Dem data version 16"},
            "y": {"field": "mv", "type": "quantitative", "title": "Codebook Category"},
            "color": {"field": "s", "type": "nominal"}
          }
        },
        {
          "transform": [
            {"filter": "datum.y == 2025"},
            {"fold": ["v", "l", "h"], "as": ["mk", "mv"]}
          ],
          "mark": {"type": "circle", "size": 38, "opacity": 1, "stroke": "white", "strokeWidth": 1},
          "encoding": {
            "x": {"field": "y", "type": "quantitative", "title": "Highcharts.com | V-Dem data version 16"},
            "y": {"field": "mv", "type": "quantitative", "title": "Codebook Category"},
            "color": {"field": "s", "type": "nominal"}
          }
        },
        {
          "data": {"values": [{}]},
          "mark": {"type": "rect", "fill": "#f7f7f7", "fillOpacity": 0.88, "stroke": "#6f86b5", "strokeWidth": 1, "cornerRadius": 3},
          "encoding": {
            "x": {"datum": 1980.24, "title": "Highcharts.com | V-Dem data version 16"},
            "x2": {"datum": 2022.75},
            "y": {"datum": 1.02, "title": "Codebook Category"},
            "y2": {"datum": 0.395}
          }
        }
      ]
    },
    {
      "data": {"name": "tip"},
      "mark": {"type": "text", "align": "left", "baseline": "middle", "font": "DejaVu Sans"},
      "encoding": {
        "x": {"datum": 1981.3, "title": "Highcharts.com | V-Dem data version 16"},
        "y": {"field": "k", "type": "quantitative", "scale": {"domain": [23.9, -3.33], "nice": false, "zero": false}, "axis": null},
        "text": {"field": "t"},
        "size": {"condition": {"test": "datum.k == 0", "value": 10}, "value": 12},
        "color": {"condition": {"test": "datum.s == 'H'", "value": "#333333"}, "field": "s", "type": "nominal"}
      }
    }
  ]
}
